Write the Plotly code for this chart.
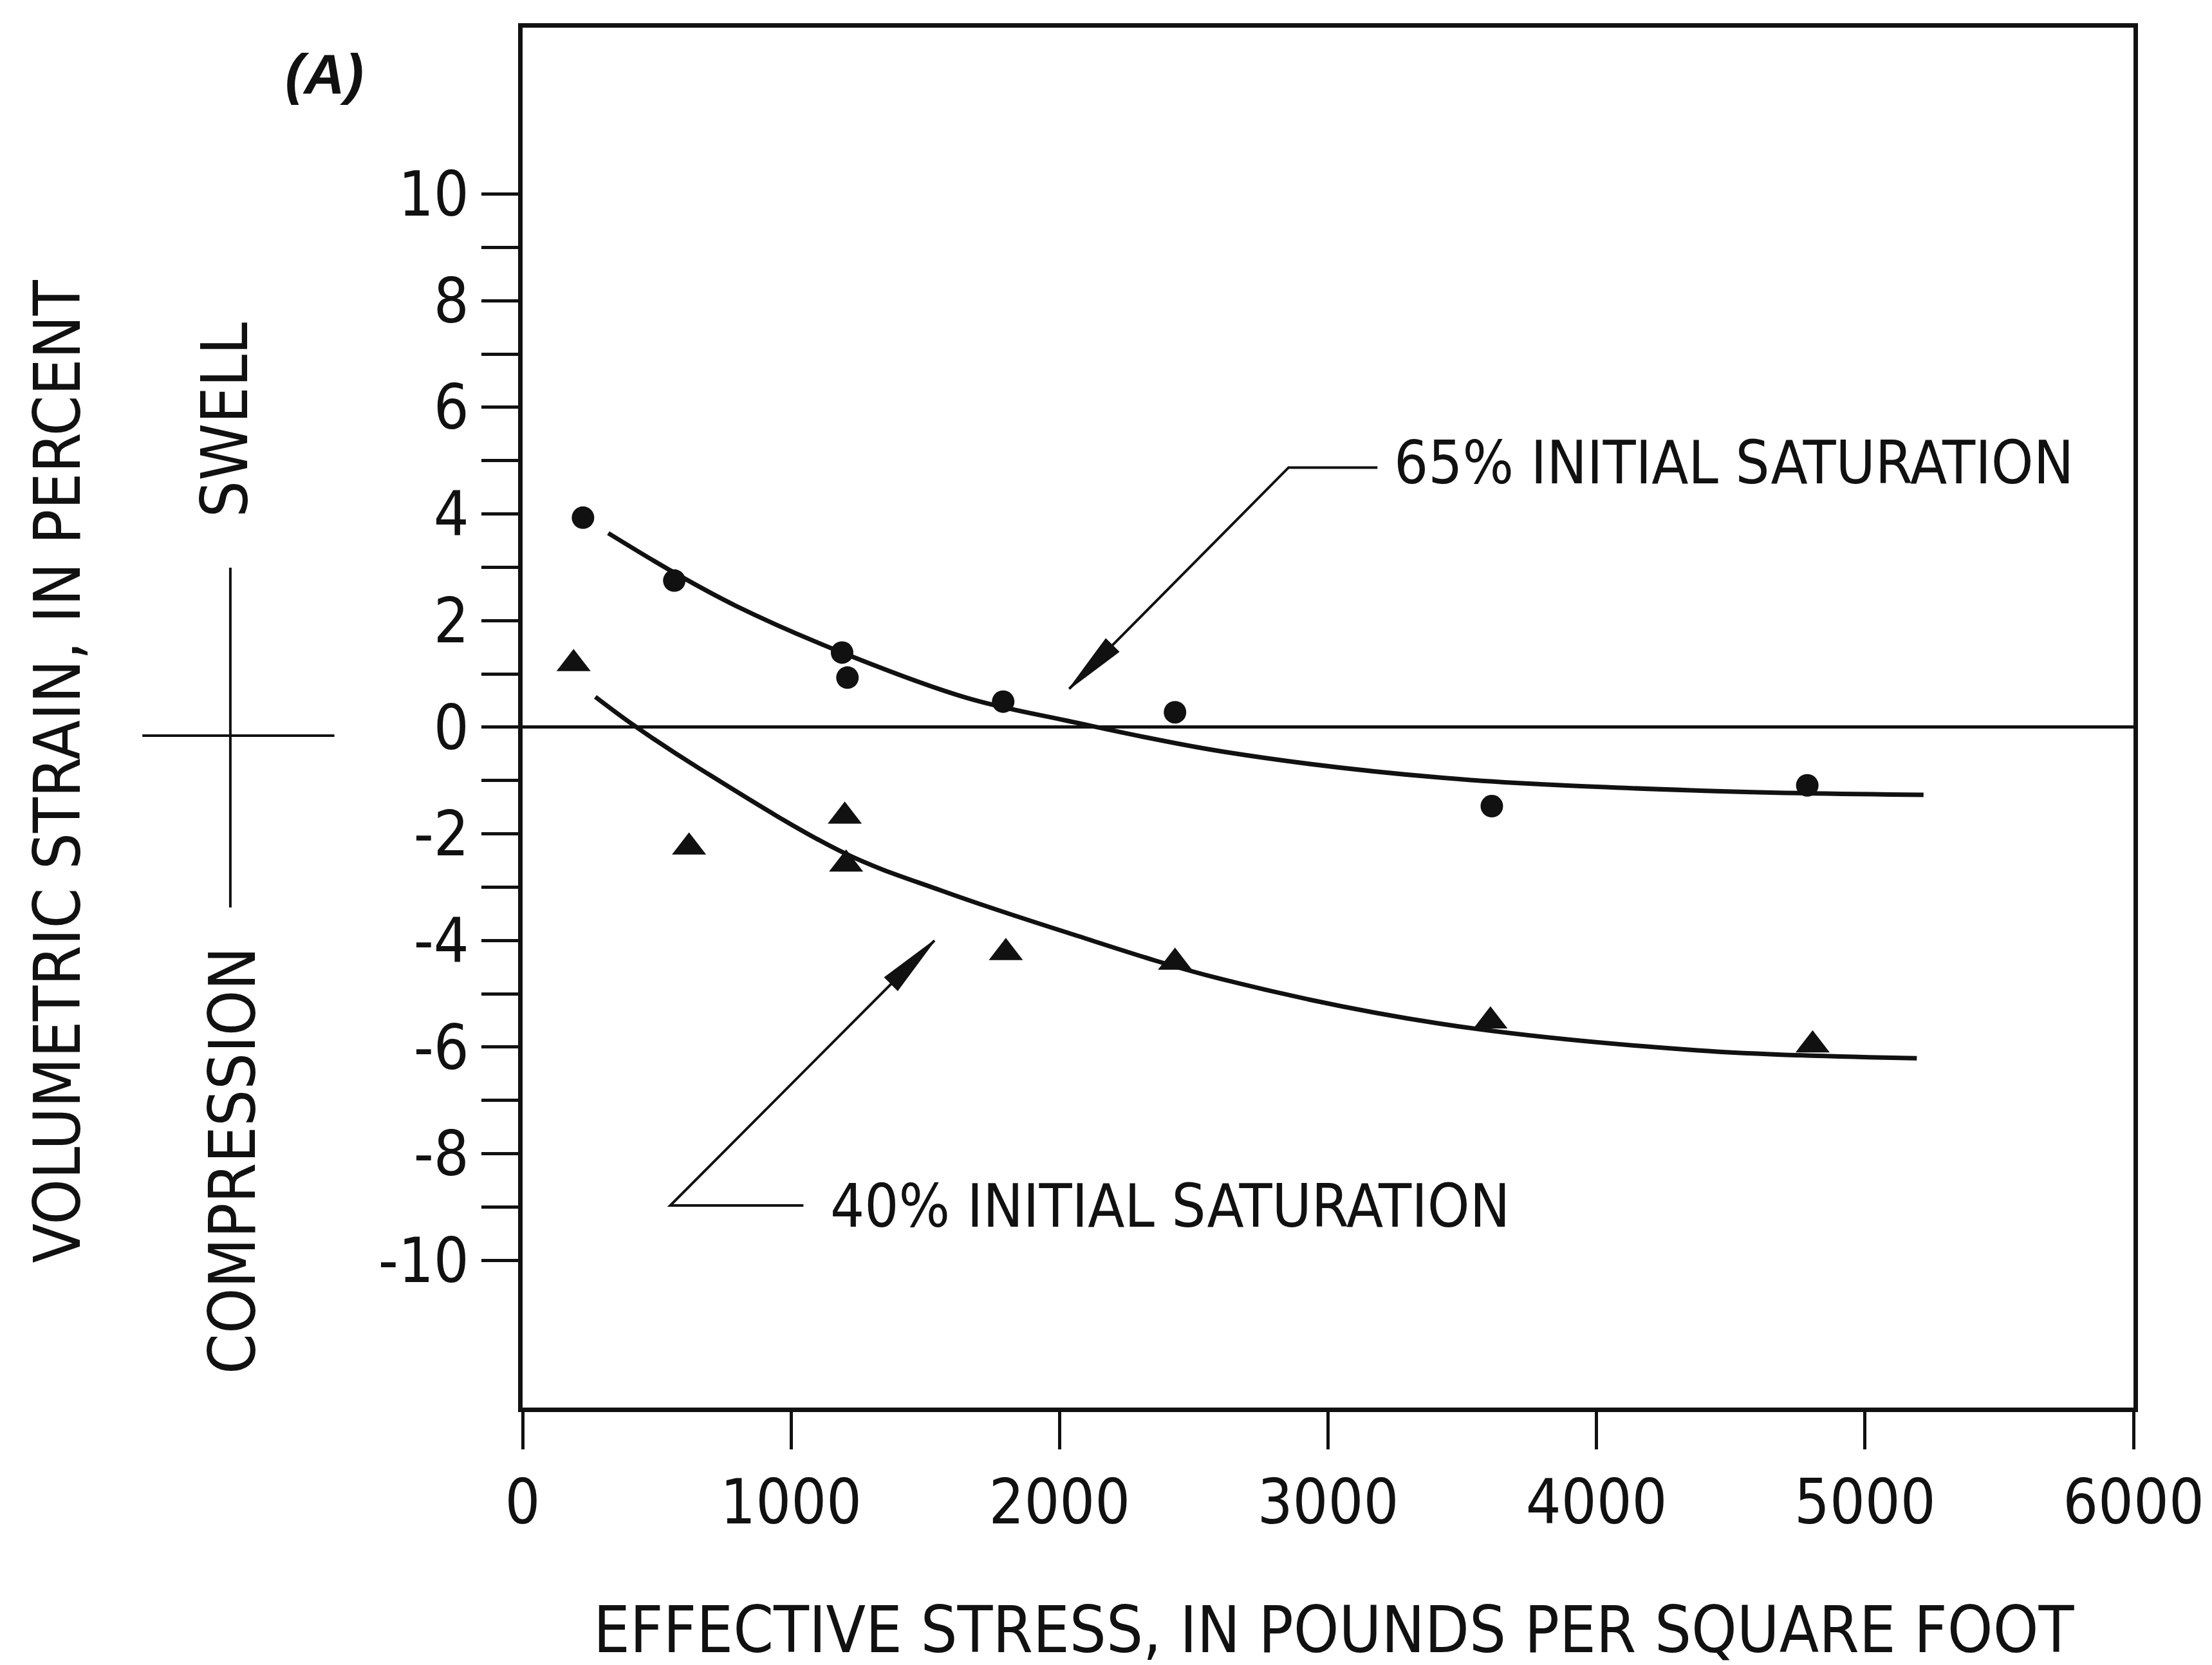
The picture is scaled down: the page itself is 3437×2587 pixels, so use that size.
import plotly.graph_objects as go

# ---------------- data ----------------
x_ticks = [0, 1000, 2000, 3000, 4000, 5000, 6000]
y_ticks = list(range(-10, 11))
y_tick_text = [str(v) if v % 2 == 0 else "" for v in y_ticks]

# measured points, 65% initial saturation (circles)
sat65_x = [225, 565, 1190, 1210, 1790, 2430, 3610, 4785]
sat65_y = [3.93, 2.75, 1.40, 0.93, 0.48, 0.28, -1.48, -1.09]

# measured points, 40% initial saturation (triangles)
sat40_x = [190, 620, 1200, 1205, 1800, 2430, 3605, 4805]
sat40_y = [1.19, -2.25, -1.67, -2.57, -4.23, -4.41, -5.51, -5.96]

# hand-drawn fitted curves
curve65_x = [319, 564, 793, 1190, 1655, 2030, 2611, 3428, 4388, 5218]
curve65_y = [3.64, 2.90, 2.28, 1.40, 0.55, 0.12, -0.46, -0.95, -1.19, -1.27]
curve40_x = [271, 416, 654, 1198, 1563, 2021, 2600, 3417, 4376, 5193]
curve40_y = [0.57, 0.03, -0.76, -2.36, -3.07, -3.84, -4.72, -5.56, -6.06, -6.21]

# label leaders: tip, elbow, end of horizontal segment, text position
lab65 = dict(text="65% INITIAL SATURATION", tip=(2036, 0.72), elbow=(2853, 4.87),
             hend=(3184, 4.87), pos=(3240, 4.96))
lab40 = dict(text="40% INITIAL SATURATION", tip=(1534, -4.0), elbow=(550, -8.97),
             hend=(1046, -8.97), pos=(1140, -8.98))

# ---------------- layout geometry ----------------
W, H = 3437, 2587
ML, MR, MT, MB = 812, 117, 43, 400
PW, PH = W - ML - MR, H - MT - MB
x_range = [0, 6000]
y_range = [-12.76, 13.12]

FONT = "Liberation Sans Narrow, DejaVu Sans Condensed, Arial Narrow, Liberation Sans, Arial, sans-serif"
BLACK = "#111111"


def paper(X, Y):
    return (X - ML) / PW, (H - MB - Y) / PH


fig = go.Figure()

fig.add_trace(go.Scatter(x=curve65_x, y=curve65_y, mode="lines", line=dict(color=BLACK, width=7, shape="spline", smoothing=1.0),
                         hoverinfo="skip", showlegend=False))
fig.add_trace(go.Scatter(x=curve40_x, y=curve40_y, mode="lines", line=dict(color=BLACK, width=7, shape="spline", smoothing=1.0),
                         hoverinfo="skip", showlegend=False))
fig.add_trace(go.Scatter(x=sat65_x, y=sat65_y, mode="markers", name="65% initial saturation",
                         marker=dict(symbol="circle", size=35, color=BLACK), showlegend=False))
fig.add_trace(go.Scatter(x=sat40_x, y=sat40_y, mode="markers", name="40% initial saturation",
                         marker=dict(symbol="triangle-up", size=46, color=BLACK), showlegend=False))

sx = PW / (x_range[1] - x_range[0])
sy = PH / (y_range[1] - y_range[0])

shapes = []
annotations = []
for lab in (lab65, lab40):
    (tx, ty), (ex, ey), (hx, hy) = lab["tip"], lab["elbow"], lab["hend"]
    # leader line
    shapes.append(dict(type="path", xref="x", yref="y",
                       path=f"M{hx},{hy} L{ex},{ey} L{tx},{ty}",
                       line=dict(color=BLACK, width=4)))
    # narrow filled arrow head, computed in pixel space
    dxp, dyp = (ex - tx) * sx, (ey - ty) * sy
    n = (dxp ** 2 + dyp ** 2) ** 0.5
    ux, uy = dxp / n, dyp / n
    px_, py_ = -uy, ux
    hl, hw = 95, 14
    bx, by = ux * hl, uy * hl
    c1 = (tx + (bx + px_ * hw) / sx, ty + (by + py_ * hw) / sy)
    c2 = (tx + (bx - px_ * hw) / sx, ty + (by - py_ * hw) / sy)
    shapes.append(dict(type="path", xref="x", yref="y",
                       path=f"M{tx},{ty} L{c1[0]},{c1[1]} L{c2[0]},{c2[1]} Z",
                       fillcolor=BLACK, line=dict(color=BLACK, width=2)))
    annotations.append(dict(x=lab["pos"][0], y=lab["pos"][1], xref="x", yref="y",
                            text=lab["text"], showarrow=False, xanchor="left", yanchor="middle",
                            font=dict(family=FONT, size=93, color=BLACK)))

# cross on the left: swell / compression indicator
a0 = paper(220, 1143); a1 = paper(519, 1143)
shapes.append(dict(type="line", xref="paper", yref="paper", x0=a0[0], y0=a0[1], x1=a1[0], y1=a1[1],
                   line=dict(color=BLACK, width=4)))
b0 = paper(357, 882); b1 = paper(357, 1410)
shapes.append(dict(type="line", xref="paper", yref="paper", x0=b0[0], y0=b0[1], x1=b1[0], y1=b1[1],
                   line=dict(color=BLACK, width=4)))

for txt, X, Y, ang in [("VOLUMETRIC STRAIN, IN PERCENT", 88, 1198, -90),
                       ("SWELL", 348, 652, -90),
                       ("COMPRESSION", 360, 1803, -90)]:
    px0, py0 = paper(X, Y)
    annotations.append(dict(x=px0, y=py0, xref="paper", yref="paper", text=txt, textangle=ang,
                            showarrow=False, xanchor="center", yanchor="middle",
                            font=dict(family=FONT, size=100, color=BLACK)))

px0, py0 = paper(2075, 2532)
annotations.append(dict(x=px0, y=py0, xref="paper", yref="paper",
                        text="EFFECTIVE STRESS, IN POUNDS PER SQUARE FOOT",
                        showarrow=False, xanchor="center", yanchor="middle",
                        font=dict(family=FONT, size=100, color=BLACK)))

px0, py0 = paper(503, 114)
annotations.append(dict(x=px0, y=py0, xref="paper", yref="paper", text="<b><i>(A)</i></b>",
                        showarrow=False, xanchor="center", yanchor="middle",
                        font=dict(family="Liberation Sans, Arial, sans-serif", size=88, color=BLACK)))

fig.update_layout(
    width=W, height=H,
    margin=dict(l=ML, r=MR, t=MT, b=MB, pad=0),
    paper_bgcolor="white", plot_bgcolor="white",
    shapes=shapes, annotations=annotations,
    font=dict(family=FONT, size=96, color=BLACK),
    showlegend=False,
)
fig.update_xaxes(range=x_range, tickvals=x_ticks, ticktext=[str(v) for v in x_ticks],
                 ticks="outside", ticklen=58, tickwidth=5, tickcolor=BLACK,
                 showline=True, linewidth=7, linecolor=BLACK, mirror=True,
                 showgrid=False, zeroline=False,
                 tickfont=dict(family=FONT, size=96, color=BLACK))
fig.update_yaxes(range=y_range, tickvals=y_ticks, ticktext=y_tick_text,
                 ticks="outside", ticklen=57, tickwidth=5, tickcolor=BLACK,
                 showline=True, linewidth=7, linecolor=BLACK, mirror=True,
                 showgrid=False, zeroline=True, zerolinewidth=5, zerolinecolor=BLACK,
                 tickfont=dict(family=FONT, size=96, color=BLACK))

fig.write_html("out.html")
